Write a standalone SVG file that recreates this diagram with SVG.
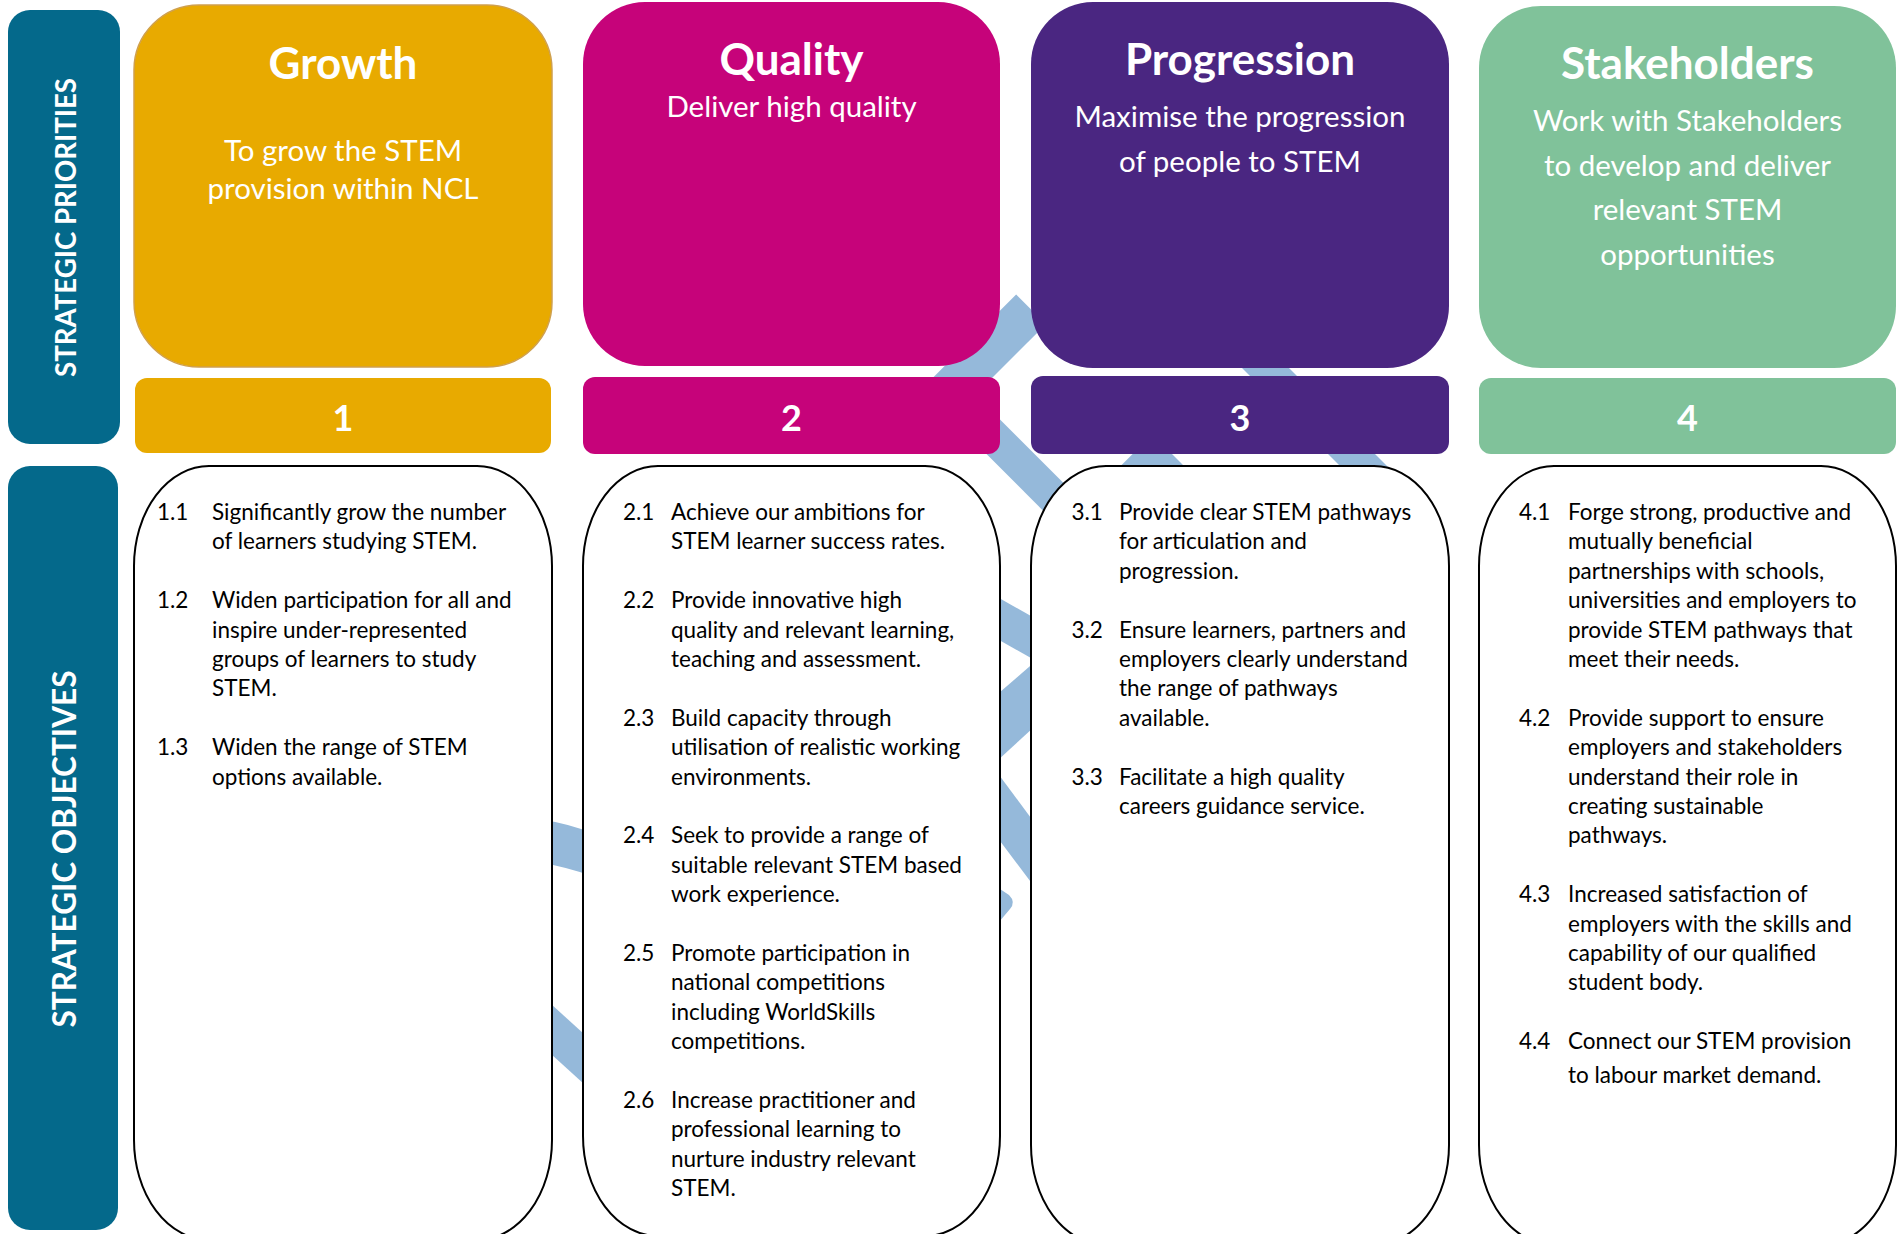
<svg xmlns="http://www.w3.org/2000/svg" width="1898" height="1234" viewBox="0 0 1898 1234">
<style>
.ttl{font-family:Lato,'Open Sans',sans-serif;font-weight:700;font-size:44px;fill:#fff;text-anchor:middle}
.sub{font-family:Lato,'Open Sans',sans-serif;font-size:29.5px;fill:#fff;text-anchor:middle}
.num{font-family:Lato,'Open Sans',sans-serif;font-weight:700;font-size:36px;fill:#fff;text-anchor:middle}
.side{font-family:Lato,'Open Sans',sans-serif;font-weight:700;fill:#fff;text-anchor:middle}
.obj{font-family:Lato,'Open Sans',sans-serif;font-size:22.5px;fill:#000}
.box{fill:#fff;stroke:#000;stroke-width:2}
.rib{fill:#95B9DA}
.teal{fill:#04698B}
</style>
<rect width="1898" height="1234" fill="#fff"/>
<g id="ribbon">
<polygon class="rib" points="1016.15,294.45 1045.85,324.15 919.85,450.15 890.15,420.45"/>
<polygon class="rib" points="937.7,405.3 961.75,381.25 1111.75,531.25 1087.7,555.3"/>
<polygon class="rib" points="1187,313 1210.5,289.5 1410.5,489.5 1387,513"/>
<polygon class="rib" points="1152.35,434.35 1187.7,469.7 1128.7,528.7 1093.35,493.35"/>
<polygon class="rib" points="985,590 1045,624 1045,666 985,632"/>
<polygon class="rib" points="985,705 1045,653 1045,717 985,772"/>
<polygon class="rib" points="985,756 1045,837 1045,901 985,821"/>
<path class="rib" d="M988 881 L1009 895 Q1016 902 1010 909 L988 935 Z"/>
<path class="rib" d="M540 819.5 Q567 823 595 834 L595 877 Q567 867 540 862.5 Z"/>
<polygon class="rib" points="540,994 595,1044 595,1094 540,1044"/>
</g>
<g id="label-priorities">
<rect class="teal" x="8" y="10" width="112" height="434" rx="22"/>
<text class="side" font-size="29" textLength="299" lengthAdjust="spacingAndGlyphs" transform="translate(76,227.5) rotate(-90)">STRATEGIC PRIORITIES</text>
</g>
<g id="label-objectives">
<rect class="teal" x="8" y="466" width="110" height="764" rx="22"/>
<text class="side" font-size="33" textLength="357" lengthAdjust="spacingAndGlyphs" transform="translate(76,849) rotate(-90)">STRATEGIC OBJECTIVES</text>
</g>
<g id="priority-growth">
<rect x="134" y="5" width="418" height="362" rx="65" fill="#E8AA00" stroke="#CFA04E" stroke-width="1.5"/>
<text class="ttl" x="343" y="79">Growth</text>
<text class="sub" x="343" y="161">To grow the STEM</text>
<text class="sub" x="343" y="199">provision within NCL</text>
</g>
<g id="priority-quality">
<rect x="583" y="2" width="417" height="364" rx="62" fill="#C6037A"/>
<text class="ttl" x="791.5" y="75">Quality</text>
<text class="sub" x="791.5" y="117">Deliver high quality</text>
</g>
<g id="priority-progression">
<rect x="1031" y="2" width="418" height="366" rx="62" fill="#4A2681"/>
<text class="ttl" x="1240" y="75">Progression</text>
<text class="sub" x="1240" y="127">Maximise the progression</text>
<text class="sub" x="1240" y="172">of people to STEM</text>
</g>
<g id="priority-stakeholders">
<rect x="1479" y="6" width="417" height="362" rx="62" fill="#80C29A"/>
<text class="ttl" x="1687.5" y="79">Stakeholders</text>
<text class="sub" x="1687.5" y="131">Work with Stakeholders</text>
<text class="sub" x="1687.5" y="175.5">to develop and deliver</text>
<text class="sub" x="1687.5" y="220">relevant STEM</text>
<text class="sub" x="1687.5" y="265">opportunities</text>
</g>
<g id="bar-1">
<rect x="135" y="378" width="416" height="75" rx="12" fill="#E8AA00"/>
<text class="num" x="343" y="431">1</text>
</g>
<g id="bar-2">
<rect x="583" y="377" width="417" height="77" rx="12" fill="#C6037A"/>
<text class="num" x="791.5" y="431">2</text>
</g>
<g id="bar-3">
<rect x="1031" y="376" width="418" height="78" rx="12" fill="#4A2681"/>
<text class="num" x="1240" y="431">3</text>
</g>
<g id="bar-4">
<rect x="1479" y="378" width="417" height="76" rx="12" fill="#80C29A"/>
<text class="num" x="1687.5" y="431">4</text>
</g>
<g id="objectives-1">
<rect class="box" x="134" y="466" width="418" height="774" rx="75" ry="100"/>
<text class="obj"><tspan x="157" y="520">1.1</tspan><tspan x="212" y="520">Significantly grow the number</tspan><tspan x="212" y="549.4">of learners studying STEM.</tspan></text>
<text class="obj"><tspan x="157" y="608.2">1.2</tspan><tspan x="212" y="608.2">Widen participation for all and</tspan><tspan x="212" y="637.6">inspire under-represented</tspan><tspan x="212" y="667">groups of learners to study</tspan><tspan x="212" y="696.4">STEM.</tspan></text>
<text class="obj"><tspan x="157" y="755.2">1.3</tspan><tspan x="212" y="755.2">Widen the range of STEM</tspan><tspan x="212" y="784.6">options available.</tspan></text>
</g>
<g id="objectives-2">
<rect class="box" x="583" y="466" width="417" height="770" rx="75" ry="100"/>
<text class="obj"><tspan x="623" y="520">2.1</tspan><tspan x="671" y="520">Achieve our ambitions for</tspan><tspan x="671" y="549.4">STEM learner success rates.</tspan></text>
<text class="obj"><tspan x="623" y="608.2">2.2</tspan><tspan x="671" y="608.2">Provide innovative high</tspan><tspan x="671" y="637.6">quality and relevant learning,</tspan><tspan x="671" y="667">teaching and assessment.</tspan></text>
<text class="obj"><tspan x="623" y="725.8">2.3</tspan><tspan x="671" y="725.8">Build capacity through</tspan><tspan x="671" y="755.2">utilisation of realistic working</tspan><tspan x="671" y="784.6">environments.</tspan></text>
<text class="obj"><tspan x="623" y="843.4">2.4</tspan><tspan x="671" y="843.4">Seek to provide a range of</tspan><tspan x="671" y="872.8">suitable relevant STEM based</tspan><tspan x="671" y="902.2">work experience.</tspan></text>
<text class="obj"><tspan x="623" y="961">2.5</tspan><tspan x="671" y="961">Promote participation in</tspan><tspan x="671" y="990.4">national competitions</tspan><tspan x="671" y="1019.8">including WorldSkills</tspan><tspan x="671" y="1049.2">competitions.</tspan></text>
<text class="obj"><tspan x="623" y="1108">2.6</tspan><tspan x="671" y="1108">Increase practitioner and</tspan><tspan x="671" y="1137.4">professional learning to</tspan><tspan x="671" y="1166.8">nurture industry relevant</tspan><tspan x="671" y="1196.2">STEM.</tspan></text>
</g>
<g id="objectives-3">
<rect class="box" x="1031" y="466" width="418" height="779" rx="75" ry="100"/>
<text class="obj"><tspan x="1071.5" y="520">3.1</tspan><tspan x="1119" y="520">Provide clear STEM pathways</tspan><tspan x="1119" y="549.4">for articulation and</tspan><tspan x="1119" y="578.8">progression.</tspan></text>
<text class="obj"><tspan x="1071.5" y="637.6">3.2</tspan><tspan x="1119" y="637.6">Ensure learners, partners and</tspan><tspan x="1119" y="667">employers clearly understand</tspan><tspan x="1119" y="696.4">the range of pathways</tspan><tspan x="1119" y="725.8">available.</tspan></text>
<text class="obj"><tspan x="1071.5" y="784.6">3.3</tspan><tspan x="1119" y="784.6">Facilitate a high quality</tspan><tspan x="1119" y="814">careers guidance service.</tspan></text>
</g>
<g id="objectives-4">
<rect class="box" x="1479" y="466" width="417" height="779" rx="75" ry="100"/>
<text class="obj"><tspan x="1519" y="520">4.1</tspan><tspan x="1568" y="520">Forge strong, productive and</tspan><tspan x="1568" y="549.4">mutually beneficial</tspan><tspan x="1568" y="578.8">partnerships with schools,</tspan><tspan x="1568" y="608.2">universities and employers to</tspan><tspan x="1568" y="637.6">provide STEM pathways that</tspan><tspan x="1568" y="667">meet their needs.</tspan></text>
<text class="obj"><tspan x="1519" y="725.8">4.2</tspan><tspan x="1568" y="725.8">Provide support to ensure</tspan><tspan x="1568" y="755.2">employers and stakeholders</tspan><tspan x="1568" y="784.6">understand their role in</tspan><tspan x="1568" y="814">creating sustainable</tspan><tspan x="1568" y="843.4">pathways.</tspan></text>
<text class="obj"><tspan x="1519" y="902.2">4.3</tspan><tspan x="1568" y="902.2">Increased satisfaction of</tspan><tspan x="1568" y="931.6">employers with the skills and</tspan><tspan x="1568" y="961">capability of our qualified</tspan><tspan x="1568" y="990.4">student body.</tspan></text>
<text class="obj"><tspan x="1519" y="1049.2">4.4</tspan><tspan x="1568" y="1049.2">Connect our STEM provision</tspan><tspan x="1568" y="1083">to labour market demand.</tspan></text>
</g>
</svg>
